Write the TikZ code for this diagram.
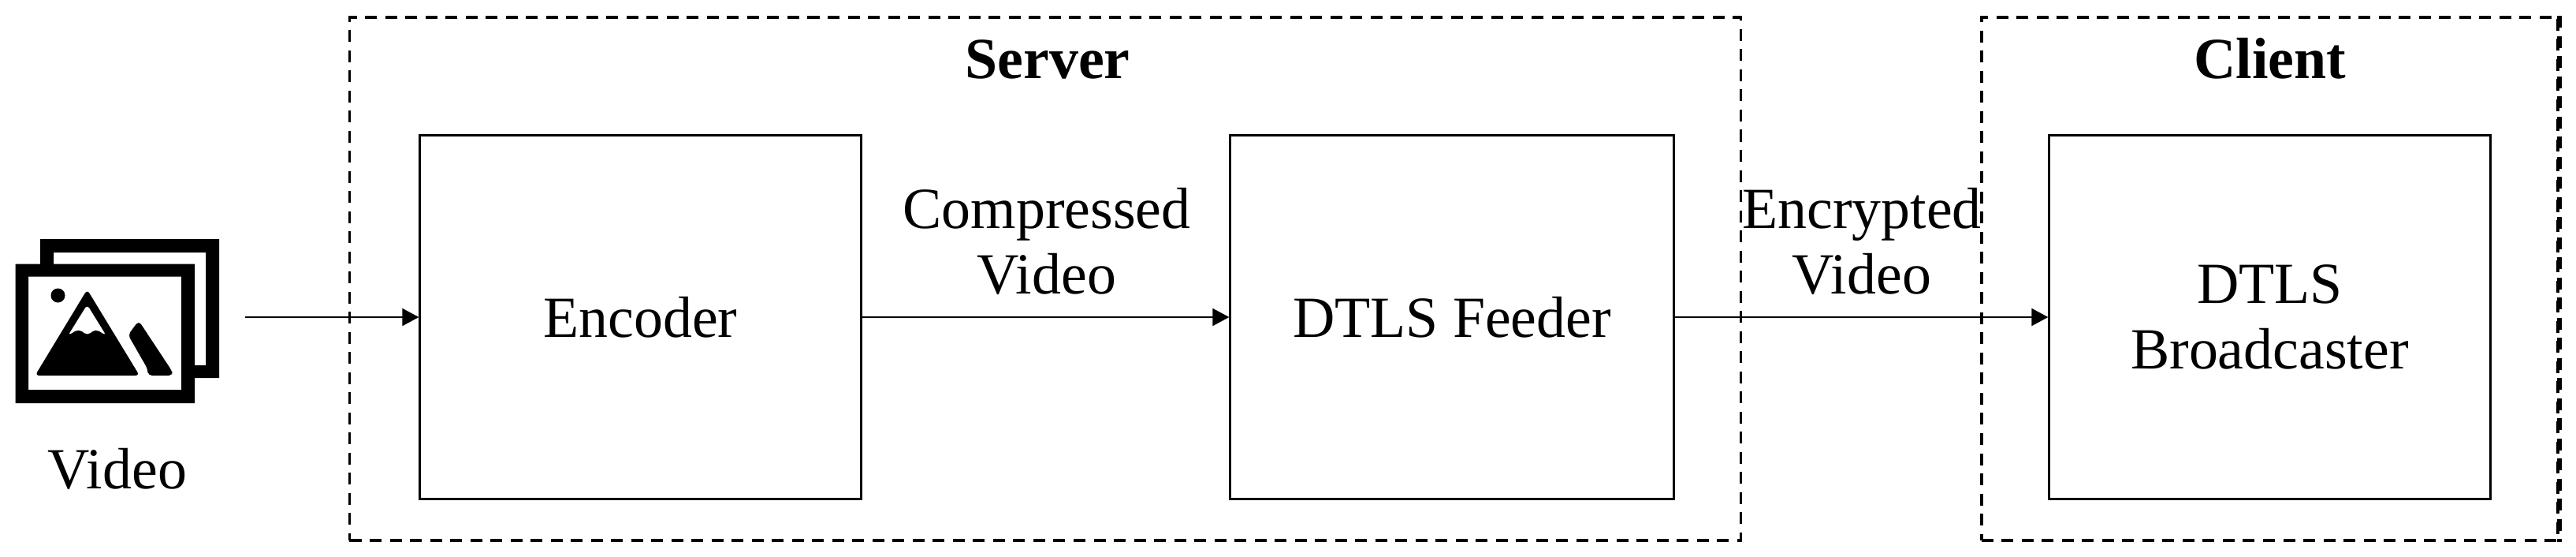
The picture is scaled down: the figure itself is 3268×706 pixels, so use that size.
\documentclass[tikz,border=0pt]{standalone}
\usepackage{fontspec}
\setmainfont{Liberation Serif}
\usetikzlibrary{arrows.meta}

\begin{document}
\begin{tikzpicture}[x=0.01cm,y=-0.01cm]
	 \tikzstyle{block}=[rectangle,draw,line width=0.85pt,minimum height=4.61cm,inner sep=0pt,align=center,font=\fontsize{21}{23.4}\selectfont]
	 \tikzstyle{frame}=[rectangle,draw,line width=1pt,dash pattern=on 0.15cm off 0.105cm,minimum height=6.63cm,inner sep=0pt]
	 \tikzstyle{title}=[anchor=base,inner sep=0pt,font=\fontsize{21}{23.4}\selectfont\bfseries]
	 \tikzstyle{caption}=[inner sep=0pt,align=center,font=\fontsize{21}{23.4}\selectfont]
	 \tikzstyle{flow}=[draw,line width=0.6pt,-{Triangle[length=0.21cm,width=0.22cm]}]
	 \tikzstyle{ink}=[fill=black,even odd rule]

	 \useasboundingbox (0,0) rectangle (3268,706);

	 \node[frame,minimum width=17.64cm] (server) at (1326,353.5) {};
	 \node[frame,minimum width=7.31cm] (client) at (2879.5,353.5) {};
	 \draw[line width=1.7pt,dash pattern=on 0.15cm off 0.105cm] (client.north east) -- (client.south east);
	 \node[title] (servertitle) at (1329,100) {Server};
	 \node[title] (clienttitle) at (2880,100) {Client};

	 \node[block,minimum width=5.59cm] (encoder) at (812.5,402) {Encoder};
	 \node[block,minimum width=5.62cm] (feeder) at (1842,402) {DTLS Feeder};
	 \node[block,minimum width=5.59cm] (broadcaster) at (2879.5,402) {DTLS\\Broadcaster};

	 \node[caption] (compressed) at (1328,306) {Compressed\\Video};
	 \node[caption] (encrypted) at (2362,306) {Encrypted\\Video};

	 % icon
	 \fill[ink] (51,303) rectangle (278,479) (68,320) rectangle (261,463);
	 \fill[white] (36,350) rectangle (247,480);
	 \fill[ink] (19.5,334.5) rectangle (247,511) (36,350.5) rectangle (230,494);
	 \fill[ink] (73.5,374.5) circle (9);
	 \fill[ink,rounded corners=1.5] (110.6,367) -- (177,476) -- (44.5,476) -- cycle
		(110.6,386) -- (86,425.5) -- (100,417) -- (111,425.5) -- (121,417) -- (135,425.5) -- cycle;
	 \fill[ink,rounded corners=1.5] (176,406.5) -- (162.5,424.5) -- (187.5,468) -- (187.5,476) -- (219.5,476) -- (218,470) -- cycle;

	 \node[caption,anchor=base] (video) at (149,619) {Video};
	 \coordinate (videoout) at (311,402);

	 \draw[flow] (videoout) -- (encoder);
	 \draw[flow] (encoder) -- (feeder);
	 \draw[flow] (feeder) -- (broadcaster);
\end{tikzpicture}
\end{document}
